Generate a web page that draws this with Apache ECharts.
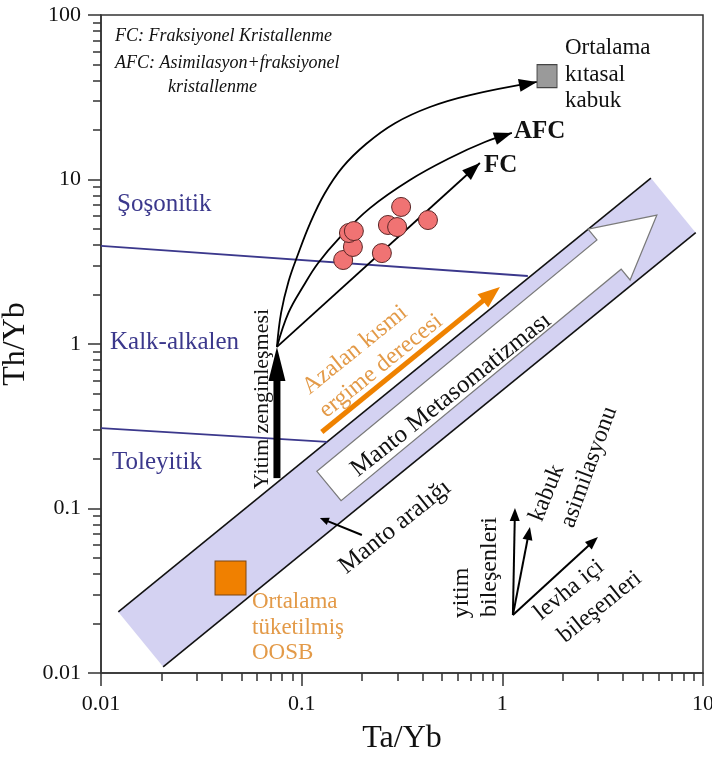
<!DOCTYPE html>
<html><head><meta charset="utf-8">
<script src="https://cdn.jsdelivr.net/npm/echarts@6/dist/echarts.min.js"></script>
<style>html,body{margin:0;padding:0;background:#fff}#c{width:712px;height:758px}</style>
</head><body><div id="c"></div>
<script>
// ---------------- data ----------------
const xTickValues = [0.01, 0.1, 1, 10];
const yTickValues = [0.01, 0.1, 1, 10, 100];
const xMinorTickValues = [];
[0.01, 0.1, 1].forEach(d => { for (let k = 2; k <= 9; k++) xMinorTickValues.push(k * d); });
const yMinorTickValues = [];
[0.01, 0.1, 1, 10].forEach(d => { for (let k = 2; k <= 9; k++) yMinorTickValues.push(k * d); });

// samples (Ta/Yb, Th/Yb)
const sampleTaYb = [0.161, 0.180, 0.172, 0.182, 0.251, 0.269, 0.299, 0.313, 0.426];
const sampleThYb = [3.24, 3.89, 4.73, 4.86, 3.57, 5.29, 5.14, 6.81, 5.67];

// mantle array band
const mantleArray = [[0.0122, 0.0235], [5.5, 10.2], [9.2, 4.75], [0.0204, 0.0109]];
const mantleUpperEdge = [[0.0122, 0.0235], [5.5, 10.2]];
const mantleLowerEdge = [[0.0204, 0.0109], [9.2, 4.75]];

// series boundaries
const shoshoniticBoundary = [[0.01, 3.95], [1.34, 2.59]];
const tholeiiticBoundary = [[0.01, 0.308], [0.134, 0.254]];

// trends from the enriched source
const fcTrend = [[0.0753, 0.96], [0.773, 12.6]];
const afcTrend = [[0.0753, 0.96], [0.0860, 1.55], [0.1020, 2.25], [0.1206, 3.10], [0.1551, 4.45],
  [0.2189, 6.70], [0.3464, 9.93], [0.548, 13.51], [0.819, 16.9], [1.116, 19.2]];
const crustTrend = [[0.0753, 0.96], [0.0790, 1.55], [0.0860, 2.40], [0.0958, 3.50], [0.1100, 5.40],
  [0.1300, 8.20], [0.1600, 11.9], [0.2100, 16.5], [0.2917, 22.0], [0.4358, 27.6], [0.690, 32.6], [1.487, 39.2]];

// arrows [from, to]
const subductionArrow = [[0.0753, 0.153], [0.0753, 0.96]];
const meltingArrow = [[0.126, 0.292], [0.973, 2.22]];
const metasomatismArrow = [[0.1368, 0.1371], [5.89, 6.08]];
const mantleArrayPointer = [[0.1995, 0.069], [0.1233, 0.0875]];
const vectorOrigin = [1.129, 0.0225];
const vectorTips = [[1.156, 0.1007], [1.373, 0.0772], [2.995, 0.0671]];

// reference compositions
const continentalCrust = [[1.67, 42.5]];
const depletedMorb = [[0.0442, 0.0378]];

// ---------------- styles ----------------
const SERIF = '"Liberation Serif", "Times New Roman", serif';
const BLUE = '#3b388c';
const ORANGE = '#ef8200';
const ORANGE_TEXT = '#e39a48';
const AXIS = '#333';

// ---------------- helpers ----------------
function arrowSeries(segments, o) {
  return {
    type: 'custom', silent: true, z: o.z || 5, clip: false,
    data: segments.map(s => [s[0][0], s[0][1], s[1][0], s[1][1]]),
    encode: { x: [0, 2], y: [1, 3] },
    renderItem(params, api) {
      const a = api.coord([api.value(0), api.value(1)]);
      const b = api.coord([api.value(2), api.value(3)]);
      const dx = b[0] - a[0], dy = b[1] - a[1], L = Math.hypot(dx, dy);
      const ux = dx / L, uy = dy / L, nx = -uy, ny = ux;
      const bx = b[0] - ux * o.headLen, by = b[1] - uy * o.headLen;
      const ch = [];
      if (o.lineWidth > 0) {
        ch.push({ type: 'line', shape: { x1: a[0], y1: a[1], x2: bx + ux * 2, y2: by + uy * 2 },
          style: { stroke: o.color, lineWidth: o.lineWidth, lineCap: 'butt' } });
      }
      const hw = o.headW / 2;
      ch.push({ type: 'polygon', shape: { points: [[b[0], b[1]], [bx + nx * hw, by + ny * hw], [bx - nx * hw, by - ny * hw]] },
        style: { fill: o.color } });
      return { type: 'group', children: ch };
    }
  };
}

function hollowArrowSeries(seg, o) {
  return {
    type: 'custom', silent: true, z: o.z || 3, clip: false,
    data: [[seg[0][0], seg[0][1], seg[1][0], seg[1][1]]],
    encode: { x: [0, 2], y: [1, 3] },
    renderItem(params, api) {
      const a = api.coord([api.value(0), api.value(1)]);
      const b = api.coord([api.value(2), api.value(3)]);
      const dx = b[0] - a[0], dy = b[1] - a[1], L = Math.hypot(dx, dy);
      const ux = dx / L, uy = dy / L, nx = -uy, ny = ux;
      const P = (s, t) => [a[0] + ux * s + nx * t, a[1] + uy * s + ny * t];
      const h = L - o.headLen;
      const pts = [P(0, -o.halfW), P(h, -o.halfW), P(h, -o.headHalfW), P(L, 0), P(h, o.headHalfW), P(h, o.halfW), P(0, o.halfW)];
      return { type: 'polygon', shape: { points: pts }, style: { fill: '#fff', stroke: '#7a7a7a', lineWidth: 1.2 } };
    }
  };
}

function polygonSeries(points, style, z) {
  return {
    type: 'custom', silent: true, z: z, clip: false,
    data: points,
    encode: { x: 0, y: 1 },
    renderItem(params, api) {
      if (params.dataIndex !== 0) return;
      return { type: 'polygon', shape: { points: points.map(p => api.coord(p)) }, style: style };
    }
  };
}

function lineSeries(points, color, width, z, smooth) {
  return {
    type: 'line', data: points, symbol: 'none', silent: true, z: z, smooth: smooth || false,
    lineStyle: { color: color, width: width }, animation: false
  };
}

function T(text, x, y, o) {
  o = o || {};
  return {
    type: 'text', x: x, y: y, rotation: (o.rot || 0) * Math.PI / 180, z: 100, silent: true,
    style: {
      text: text, x: 0, y: 0, align: o.align || 'center', verticalAlign: 'middle',
      fill: o.color || '#111',
      font: (o.style || 'normal') + ' ' + (o.weight || 'normal') + ' ' + (o.size || 25) + 'px ' + SERIF
    }
  };
}

const fmt = v => String(+(+v).toPrecision(2));
const noZero = { show: true, onZero: false, lineStyle: { color: AXIS, width: 1.5 } };
const hiddenLine = { show: false, onZero: false };

// ---------------- option ----------------
const option = {
  animation: false,
  backgroundColor: '#fff',
  grid: { left: 101, right: 9, top: 15, bottom: 85, containLabel: false, outerBoundsMode: 'none',
    show: true, borderColor: AXIS, borderWidth: 1.5, backgroundColor: 'transparent' },
  xAxis: [
    { type: 'log', logBase: 10, min: 0.01, max: 10, position: 'bottom',
      name: 'Ta/Yb', nameLocation: 'middle', nameGap: 50,
      nameTextStyle: { fontFamily: SERIF, fontSize: 32, color: '#111' },
      axisLine: noZero,
      axisTick: { show: true, length: 13, lineStyle: { color: AXIS, width: 1.5 } },
      axisLabel: { show: true, fontFamily: SERIF, fontSize: 22, color: '#111', margin: 20, formatter: fmt },
      splitLine: { show: false }, minorTick: { show: false }, minorSplitLine: { show: false } },
    { type: 'value', min: -2, max: 1, position: 'bottom', offset: 0,
      axisLine: hiddenLine, axisLabel: { show: false }, splitLine: { show: false },
      axisTick: { show: true, length: 8, customValues: xMinorTickValues.map(Math.log10), lineStyle: { color: AXIS, width: 1.5 } } }
  ],
  yAxis: [
    { type: 'log', logBase: 10, min: 0.01, max: 100, position: 'left',
      name: 'Th/Yb', nameLocation: 'middle', nameGap: 62, nameRotate: 90,
      nameTextStyle: { fontFamily: SERIF, fontSize: 32, color: '#111' },
      axisLine: noZero,
      axisTick: { show: true, length: 13, lineStyle: { color: AXIS, width: 1.5 } },
      axisLabel: { show: true, fontFamily: SERIF, fontSize: 22, color: '#111', margin: 20, formatter: fmt },
      splitLine: { show: false }, minorTick: { show: false }, minorSplitLine: { show: false } },
    { type: 'value', min: -2, max: 2, position: 'left', offset: 0,
      axisLine: hiddenLine, axisLabel: { show: false }, splitLine: { show: false },
      axisTick: { show: true, length: 8, customValues: yMinorTickValues.map(Math.log10), lineStyle: { color: AXIS, width: 1.5 } } }
  ],
  series: [
    polygonSeries(mantleArray, { fill: '#d4d2f2' }, 1),
    lineSeries(mantleUpperEdge, '#111', 1.6, 2),
    lineSeries(mantleLowerEdge, '#111', 1.6, 2),
    lineSeries(shoshoniticBoundary, BLUE, 1.8, 2),
    lineSeries(tholeiiticBoundary, BLUE, 1.8, 2),
    hollowArrowSeries(metasomatismArrow, { halfW: 19, headHalfW: 33, headLen: 62, z: 3 }),
    arrowSeries([meltingArrow], { color: ORANGE, lineWidth: 5, headLen: 22, headW: 17, z: 4 }),
    arrowSeries([subductionArrow], { color: '#000', lineWidth: 7, headLen: 34, headW: 17, z: 4 }),
    arrowSeries([mantleArrayPointer], { color: '#000', lineWidth: 2, headLen: 9, headW: 8, z: 4 }),
    arrowSeries(vectorTips.map(t => [vectorOrigin, t]), { color: '#000', lineWidth: 2, headLen: 13, headW: 10, z: 4 }),
    lineSeries(fcTrend, '#000', 1.8, 5),
    lineSeries(afcTrend, '#000', 1.8, 5, 0.4),
    lineSeries(crustTrend, '#000', 1.8, 5, 0.4),
    arrowSeries([
      [fcTrend[fcTrend.length - 2], fcTrend[fcTrend.length - 1]],
      [afcTrend[afcTrend.length - 2], afcTrend[afcTrend.length - 1]],
      [crustTrend[crustTrend.length - 2], crustTrend[crustTrend.length - 1]]
    ], { color: '#000', lineWidth: 0, headLen: 18, headW: 13, z: 5 }),
    { type: 'scatter', z: 6, silent: true, symbol: 'circle', symbolSize: 19,
      data: sampleTaYb.map((x, i) => [x, sampleThYb[i]]),
      itemStyle: { color: '#f07373', borderColor: '#5a2626', borderWidth: 1, opacity: 1 } },
    { type: 'scatter', z: 6, silent: true, symbol: 'rect', symbolSize: [20, 23], data: continentalCrust,
      itemStyle: { color: '#9a9a9a', borderColor: '#444', borderWidth: 1, opacity: 1 } },
    { type: 'scatter', z: 6, silent: true, symbol: 'rect', symbolSize: [31, 34], data: depletedMorb,
      itemStyle: { color: '#f08000', borderColor: '#7a4410', borderWidth: 1, opacity: 1 } }
  ],
  graphic: { elements: [
    T('FC: Fraksiyonel Kristallenme', 115, 36, { align: 'left', style: 'italic', size: 18 }),
    T('AFC: Asimilasyon+fraksiyonel', 115, 63, { align: 'left', style: 'italic', size: 18 }),
    T('kristallenme', 168, 87, { align: 'left', style: 'italic', size: 18 }),
    T('Ortalama', 565, 48, { align: 'left', size: 23 }),
    T('kıtasal', 565, 75, { align: 'left', size: 23 }),
    T('kabuk', 565, 101, { align: 'left', size: 23 }),
    T('AFC', 514, 132, { align: 'left', weight: 'bold', size: 25 }),
    T('FC', 484, 166, { align: 'left', weight: 'bold', size: 25 }),
    T('Şoşonitik', 117, 204, { align: 'left', color: BLUE, size: 25 }),
    T('Kalk-alkalen', 110, 342, { align: 'left', color: BLUE, size: 25 }),
    T('Toleyitik', 112, 462, { align: 'left', color: BLUE, size: 25 }),
    T('Yitim zenginleşmesi', 262, 399, { rot: 90, size: 22 }),
    T('Azalan kısmi', 355, 350, { rot: 39, color: ORANGE_TEXT, size: 24 }),
    T('ergime derecesi', 381, 366, { rot: 39, color: ORANGE_TEXT, size: 24 }),
    T('Manto Metasomatizması', 451, 395, { rot: 38.5, size: 25 }),
    T('Manto aralığı', 395, 527, { rot: 38.7, size: 25 }),
    T('Ortalama', 252, 602, { align: 'left', color: ORANGE_TEXT, size: 23 }),
    T('tüketilmiş', 252, 628, { align: 'left', color: ORANGE_TEXT, size: 23 }),
    T('OOSB', 252, 653, { align: 'left', color: ORANGE_TEXT, size: 23 }),
    T('yitim', 462, 593, { rot: 90, size: 24 }),
    T('bileşenleri', 490, 567, { rot: 90, size: 24 }),
    T('kabuk', 547, 493, { rot: 68, size: 24 }),
    T('asimilasyonu', 589, 467, { rot: 70, size: 24 }),
    T('levha içi', 569, 590, { rot: 39, size: 24 }),
    T('bileşenleri', 600, 607, { rot: 39, size: 24 })
  ] }
};

const chart = echarts.init(document.getElementById('c'), null, { renderer: 'canvas' });
chart.setOption(option);
</script>
</body></html>
